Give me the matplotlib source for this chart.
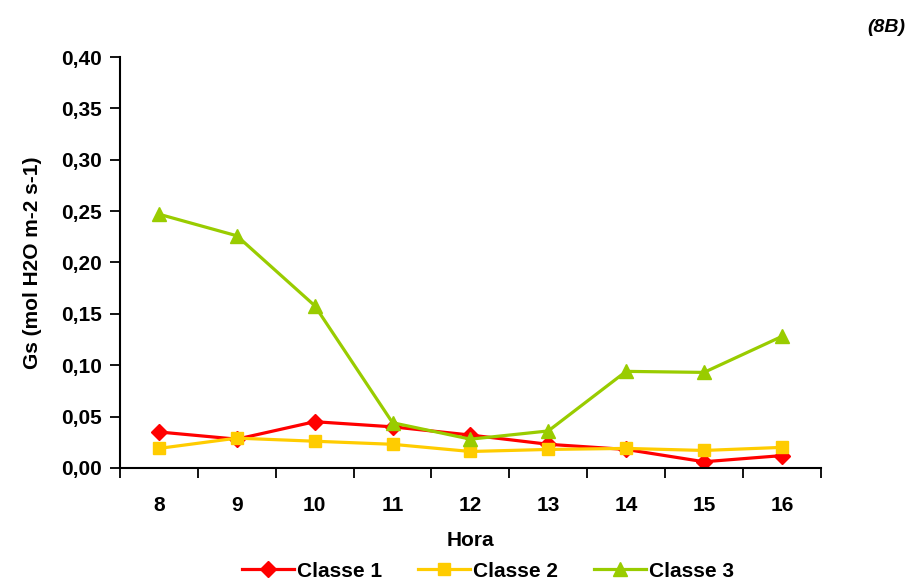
import matplotlib
matplotlib.use("Agg")
import matplotlib.pyplot as plt
from matplotlib.ticker import FuncFormatter, MultipleLocator, FixedLocator
import numpy as np

plt.rcParams['font.family'] = ['Liberation Sans', 'DejaVu Sans']
plt.rcParams['font.weight'] = 'bold'

# data
horas = ['8', '9', '10', '11', '12', '13', '14', '15', '16']
classe1 = [0.035, 0.028, 0.045, 0.040, 0.032, 0.023, 0.018, 0.006, 0.012]
classe2 = [0.019, 0.029, 0.026, 0.023, 0.016, 0.018, 0.019, 0.017, 0.020]
classe3 = [0.247, 0.226, 0.158, 0.044, 0.028, 0.036, 0.094, 0.093, 0.128]

fig = plt.figure(figsize=(9.12, 5.82), dpi=100)
ax = fig.add_axes([0.1316, 0.196, 0.7684, 0.706])

x = np.arange(len(horas))
ax.plot(x, classe1, color='#FF0000', lw=2.3, marker='D', ms=8, label='Classe 1')
ax.plot(x, classe2, color='#FFCC00', lw=2.3, marker='s', ms=9, label='Classe 2')
ax.plot(x, classe3, color='#99CC00', lw=2.3, marker='^', ms=10, label='Classe 3')

ax.set_xlim(-0.5, len(horas) - 0.5)
ax.set_ylim(0, 0.40)
ax.yaxis.set_major_locator(MultipleLocator(0.05))
ax.yaxis.set_major_formatter(FuncFormatter(lambda v, p: f"{v:.2f}".replace('.', ',')))

ax.set_xticks(x)
ax.set_xticklabels(horas)
ax.xaxis.set_minor_locator(FixedLocator(np.arange(-0.5, len(horas), 1.0)))
ax.tick_params(axis='x', which='major', length=0, pad=20, labelsize=15)
ax.tick_params(axis='x', which='minor', length=7, width=1.3, direction='out')
ax.tick_params(axis='y', length=7, width=1.3, direction='out', labelsize=15, pad=6)

for s in ['top', 'right']:
    ax.spines[s].set_visible(False)
for s in ['left', 'bottom']:
    ax.spines[s].set_linewidth(1.5)

ax.set_xlabel('Hora', fontsize=15, fontweight='bold', labelpad=12)
ax.set_ylabel('Gs (mol H2O m-2 s-1)', fontsize=15, fontweight='bold', labelpad=14)

fig.text(0.993, 0.953, '(8B)', ha='right', va='center', fontsize=14,
         fontweight='bold', style='italic')

fig.legend(loc='lower center', bbox_to_anchor=(0.535, -0.03), ncol=3, frameon=False,
           handlelength=2.5, columnspacing=1.7, handletextpad=0.15,
           prop={'weight': 'bold', 'size': 15})

fig.savefig('out.png', dpi=100)
